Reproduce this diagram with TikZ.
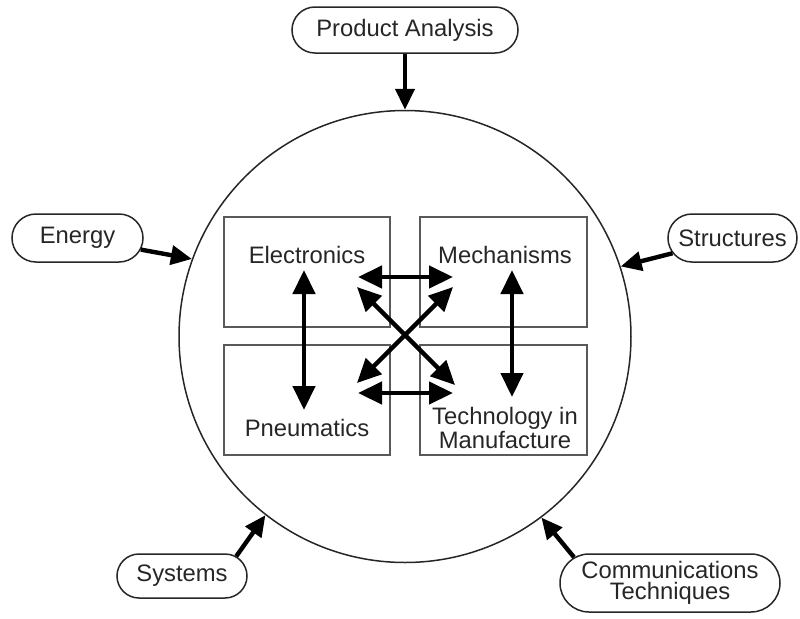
\documentclass[tikz,border=0pt]{standalone}
\usepackage{fontspec}
\setmainfont{Liberation Sans}
\usetikzlibrary{arrows.meta,shapes.misc}
\begin{document}
\begin{tikzpicture}[x=0.5pt,y=-0.5pt,
  every node/.style={font=\fontsize{11.9}{12}\selectfont, text=black!85},
  pill/.style={draw=black!85, line width=0.75pt, rounded rectangle, inner sep=0pt, align=center},
  topicbox/.style={draw=black!65, line width=1pt, rectangle, inner sep=0pt},
  lbl/.style={inner sep=0pt, align=center},
  feed/.style={line width=2.2pt, -{Triangle[length=10.5pt,width=9.5pt]}},
  link/.style={line width=2.2pt, {Triangle[length=12pt,width=11pt]}-{Triangle[length=12pt,width=11pt]}}
]
\useasboundingbox (0,0) rectangle (800,618);
% central circle
\node[draw=black!85, line width=0.75pt, circle, minimum size=226pt, inner sep=0pt] (C) at (405,336.5) {};
% outer topics
\node[pill, minimum width=113pt, minimum height=23pt] (pa) at (405,30) {Product Analysis};
\node[pill, minimum width=65.5pt, minimum height=24pt] (en) at (77.5,238) {Energy};
\node[pill, minimum width=64.5pt, minimum height=24pt] (st) at (732.5,238) {Structures};
\node[pill, minimum width=65pt, minimum height=22pt] (sy) at (182,576) {Systems};
\node[pill, minimum width=110pt, minimum height=29pt] (cm) at (670,583) {Communications\\[-1.5pt]Techniques};
% outer arrows
\draw[feed] (pa.south) -- (C.north);
\draw[feed] (en) -- (C.160.8);
\draw[feed] (st) -- (C.18.9);
\draw[feed] (sy.20) -- (C.232.4);
\draw[feed] (cm.165) -- (C.307.1);
% inner boxes
\node[topicbox, minimum width=83pt, minimum height=55pt] (elb) at (307,272) {};
\node[topicbox, minimum width=83.5pt, minimum height=55pt] (meb) at (503.5,272) {};
\node[topicbox, minimum width=83pt, minimum height=55pt] (pnb) at (307,400) {};
\node[topicbox, minimum width=83.5pt, minimum height=55pt] (tmb) at (503.5,400) {};
\node[lbl] (el) at (307,255) {Electronics};
\node[lbl] (me) at (505,255) {Mechanisms};
\node[lbl] (pn) at (307,428) {Pneumatics};
\node[lbl] (tm) at (505,428) {Technology in\\Manufacture};
% inner arrow ends
\coordinate (v1a) at (304,270); \coordinate (v1b) at (304,410);
\coordinate (v2a) at (512,270); \coordinate (v2b) at (512,397);
\coordinate (h1a) at (358,277); \coordinate (h1b) at (453,277);
\coordinate (h2a) at (358,393); \coordinate (h2b) at (453,393);
\coordinate (d1a) at (357,287); \coordinate (d1b) at (455,385);
\coordinate (d2a) at (453,287); \coordinate (d2b) at (357,383);
\draw[link] (v1a) -- (v1b);
\draw[link] (v2a) -- (v2b);
\draw[link] (h1a) -- (h1b);
\draw[link] (h2a) -- (h2b);
\draw[link] (d1a) -- (d1b);
\draw[link] (d2a) -- (d2b);
\end{tikzpicture}
\end{document}
